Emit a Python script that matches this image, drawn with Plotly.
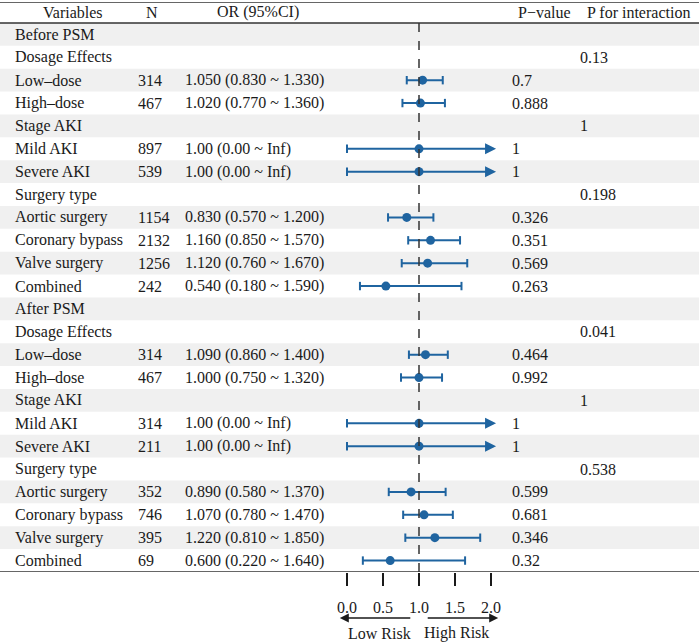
import math

import plotly.graph_objects as go

# table rows, top to bottom
variables = [
    "Before PSM", "Dosage Effects", "Low–dose", "High–dose",
    "Stage AKI", "Mild AKI", "Severe AKI", "Surgery type",
    "Aortic surgery", "Coronary bypass", "Valve surgery", "Combined",
    "After PSM", "Dosage Effects", "Low–dose", "High–dose",
    "Stage AKI", "Mild AKI", "Severe AKI", "Surgery type",
    "Aortic surgery", "Coronary bypass", "Valve surgery", "Combined",
]
n_values = [
    "", "", "314", "467", "", "897", "539", "",
    "1154", "2132", "1256", "242",
    "", "", "314", "467", "", "314", "211", "",
    "352", "746", "395", "69",
]
odds_ratio = [
    None, None, 1.05, 1.02, None, 1.00, 1.00, None,
    0.83, 1.16, 1.12, 0.54,
    None, None, 1.09, 1.00, None, 1.00, 1.00, None,
    0.89, 1.07, 1.22, 0.60,
]
ci_low = [
    None, None, 0.83, 0.77, None, 0.00, 0.00, None,
    0.57, 0.85, 0.76, 0.18,
    None, None, 0.86, 0.75, None, 0.00, 0.00, None,
    0.58, 0.78, 0.81, 0.22,
]
ci_high = [
    None, None, 1.33, 1.36, None, math.inf, math.inf, None,
    1.20, 1.57, 1.67, 1.59,
    None, None, 1.40, 1.32, None, math.inf, math.inf, None,
    1.37, 1.47, 1.85, 1.64,
]
p_values = [
    "", "", "0.7", "0.888", "", "1", "1", "",
    "0.326", "0.351", "0.569", "0.263",
    "", "", "0.464", "0.992", "", "1", "1", "",
    "0.599", "0.681", "0.346", "0.32",
]
p_interaction = [
    "", "0.13", "", "", "1", "", "", "0.198",
    "", "", "", "",
    "", "0.041", "", "", "1", "", "", "0.538",
    "", "", "", "",
]
headers = ["Variables", "N", "OR (95%CI)", "P\u2212value", "P for interaction"]
x_ticks = [0.0, 0.5, 1.0, 1.5, 2.0]
x_max = 2.0

W, H = 699, 643
FONT = "Liberation Serif, DejaVu Serif, serif"
TEXT = "#1a1a1a"
BLUE = "#1f64a0"
BAND = "#f0f0f0"

n_rows = len(variables)
top_y = -1.418  # top rule sits a bit less than one row above the header rule


def px(x):
    return x / W


def py(y):
    return 1 - y / H


def or_label(est, lo, hi):
    if est is None:
        return ""
    if math.isinf(hi):
        return f"{est:.2f} ({lo:.2f} ~ Inf)"
    return f"{est:.3f} ({lo:.3f} ~ {hi:.3f})"


fig = go.Figure()

rows = list(range(n_rows))
est_rows = [i for i in rows if odds_ratio[i] is not None]

# CI lines
line_x, line_y = [], []
for i in est_rows:
    line_x += [ci_low[i], min(ci_high[i], x_max), None]
    line_y += [i, i, None]
fig.add_trace(go.Scatter(
    x=line_x, y=line_y, mode="lines",
    line={"color": BLUE, "width": 2}, hoverinfo="skip", showlegend=False,
))

# end caps (no cap on the open, clipped side)
cap_x, cap_y = [], []
for i in est_rows:
    cap_x.append(ci_low[i])
    cap_y.append(i)
    if not math.isinf(ci_high[i]):
        cap_x.append(ci_high[i])
        cap_y.append(i)
fig.add_trace(go.Scatter(
    x=cap_x, y=cap_y, mode="markers",
    marker={"symbol": "line-ns-open", "size": 6, "color": BLUE,
            "line": {"color": BLUE, "width": 2}},
    hoverinfo="skip", showlegend=False,
))

# point estimates
fig.add_trace(go.Scatter(
    x=[odds_ratio[i] for i in est_rows], y=est_rows, mode="markers",
    marker={"color": BLUE, "size": 9}, showlegend=False,
))

shapes = []
for i in rows:
    if i % 2 == 0:
        shapes.append(dict(
            type="rect", xref="paper", yref="y", x0=0, x1=1,
            y0=i - 0.5, y1=i + 0.5, fillcolor=BAND, line_width=0,
            layer="below",
        ))
for yy in [top_y, -0.5, n_rows - 0.5]:
    shapes.append(dict(
        type="line", xref="paper", yref="y", x0=0, x1=1, y0=yy, y1=yy,
        line={"color": "#333333", "width": 1.6},
    ))
shapes.append(dict(
    type="line", xref="x", yref="y", x0=1, x1=1, y0=-0.5, y1=n_rows - 0.5,
    line={"color": "#333333", "width": 1.5, "dash": "dash"},
))

annotations = []


def add_text(text, x, y, anchor="left", yref="y"):
    annotations.append(dict(
        text=text, x=x, y=y, xref="paper", yref=yref, xanchor=anchor,
        yanchor="middle", showarrow=False,
        font={"family": FONT, "size": 16, "color": TEXT},
    ))


header_y = (top_y - 0.5) / 2
for name, cx in zip(headers, [73, 152, 258, 544, 638]):
    add_text(name, px(cx), header_y, anchor="center")

for i in rows:
    add_text(variables[i], px(13), i)
    if n_values[i]:
        add_text(n_values[i], px(136), i)
    label = or_label(odds_ratio[i], ci_low[i], ci_high[i])
    if label:
        add_text(label, px(183), i)
    if p_values[i]:
        add_text(p_values[i], px(510), i)
    if p_interaction[i]:
        add_text(p_interaction[i], px(578), i)

# arrows for open-ended intervals
for i in est_rows:
    if math.isinf(ci_high[i]):
        annotations.append(dict(
            x=x_max + 0.07, y=i, ax=x_max - 0.1, ay=i, xref="x", yref="y",
            axref="x", ayref="y", text="", showarrow=True, arrowhead=2,
            arrowsize=1.1, arrowwidth=2, arrowcolor=BLUE,
        ))

# Low / High risk guide under the axis
for tip, tail in [(-0.1, 0.9), (2.1, 1.1)]:
    annotations.append(dict(
        x=tip, y=py(618), ax=tail, ay=0, xref="x", yref="paper",
        axref="x", ayref="pixel", text="", showarrow=True, arrowhead=2,
        arrowsize=1.2, arrowwidth=1.5, arrowcolor="#1a1a1a",
    ))
annotations.append(dict(
    text="Low Risk", x=0.92, y=py(633), xref="x", yref="paper",
    xanchor="right", yanchor="middle", showarrow=False,
    font={"family": FONT, "size": 16, "color": TEXT},
))
annotations.append(dict(
    text="High Risk", x=1.04, y=py(633), xref="x", yref="paper",
    xanchor="left", yanchor="middle", showarrow=False,
    font={"family": FONT, "size": 16, "color": TEXT},
))

x0_px, unit_px = 347.0, 72.0
fig.update_layout(
    width=W, height=H,
    margin={"l": 0, "r": 0, "t": 0, "b": 0},
    paper_bgcolor="white", plot_bgcolor="white",
    shapes=shapes, annotations=annotations, showlegend=False,
    xaxis=dict(
        domain=[0, 1],
        range=[(0 - x0_px) / unit_px, (W - x0_px) / unit_px],
        tickvals=x_ticks, ticktext=[f"{t:.1f}" for t in x_ticks],
        ticks="outside", ticklen=13, tickwidth=2, tickcolor="#1a1a1a",
        ticklabelstandoff=8,
        tickfont={"family": FONT, "size": 16, "color": TEXT},
        showgrid=False, zeroline=False, showline=False, fixedrange=True,
    ),
    yaxis=dict(
        domain=[py(572), py(2)],
        range=[n_rows - 0.5, top_y],
        showticklabels=False, showgrid=False, zeroline=False,
        showline=False, ticks="", fixedrange=True,
    ),
)

# the page's default body margin would push the figure off the window
fig.write_html(
    "out.html",
    config={"displayModeBar": False},
    post_script="document.body.style.margin='0';"
    "document.body.style.overflow='hidden';",
)
